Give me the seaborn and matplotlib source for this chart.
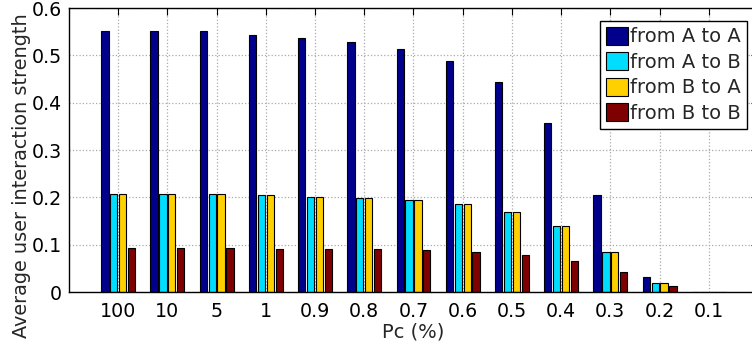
import matplotlib
matplotlib.use("Agg")
import matplotlib.pyplot as plt
import matplotlib.patches as mpatches
import seaborn as sns
import pandas as pd

# Pc thresholds (%) shown along the x axis
pc_labels = ["100", "10", "5", "1", "0.9", "0.8", "0.7", "0.6", "0.5", "0.4", "0.3", "0.2", "0.1"]

# Average interaction strength for each direction
a_to_a = [0.552, 0.552, 0.552, 0.544, 0.537, 0.529, 0.514, 0.488, 0.443, 0.358, 0.204, 0.031, 0.001]
a_to_b = [0.206, 0.206, 0.206, 0.204, 0.201, 0.199, 0.194, 0.185, 0.170, 0.139, 0.084, 0.018, 0.0006]
b_to_a = [0.206, 0.206, 0.206, 0.204, 0.201, 0.199, 0.194, 0.185, 0.170, 0.139, 0.084, 0.018, 0.0006]
b_to_b = [0.092, 0.092, 0.092, 0.090, 0.091, 0.090, 0.088, 0.085, 0.078, 0.066, 0.042, 0.013, 0.0004]

series_names = ["from A to A", "from A to B", "from B to A", "from B to B"]
series_values = [a_to_a, a_to_b, b_to_a, b_to_b]
colors = ["#00008C", "#00DDFF", "#FFD000", "#7F0000"]

rows = []
for name, vals in zip(series_names, series_values):
    for lab, v in zip(pc_labels, vals):
        rows.append({"Pc": lab, "direction": name, "value": v})
df = pd.DataFrame(rows)

sns.set_style("white")
plt.rcParams["font.family"] = ["DejaVu Sans"]

fig = plt.figure(figsize=(7.52, 3.45), dpi=100)
ax = fig.add_axes([69 / 752, 53 / 345, 689 / 752, 284 / 345])

sns.barplot(data=df, x="Pc", y="value", hue="direction", order=pc_labels,
            hue_order=series_names, palette=colors, width=0.72,
            saturation=1, edgecolor="black", linewidth=0.8, legend=False, ax=ax)

# narrower bars, keeping each bar centred in its slot
for p in ax.patches:
    cx = p.get_x() + p.get_width() / 2
    p.set_width(0.148)
    p.set_x(cx - 0.074)

ax.set_xlim(-1, 13)
ax.set_ylim(0, 0.6)
ax.set_yticks([0, 0.1, 0.2, 0.3, 0.4, 0.5, 0.6])
ax.set_yticklabels(["0", "0.1", "0.2", "0.3", "0.4", "0.5", "0.6"])
ax.set_xticks(range(len(pc_labels)))
ax.set_xticklabels(pc_labels)

ax.grid(True, linestyle=":", color="#aaaaaa", linewidth=0.9)
ax.set_axisbelow(True)
ax.tick_params(axis="both", which="both", direction="in", top=True, right=True,
               length=5, width=0.8, labelsize=13.7, colors="black")
ax.tick_params(axis="x", pad=7)
ax.tick_params(axis="y", pad=5)
for s in ax.spines.values():
    s.set_color("black")
    s.set_linewidth(1.0)

ax.set_xlabel("Pc (%)", fontsize=14, labelpad=1)
ax.set_ylabel("")
# axis title sits a little below the axes centre
fig.text(22 / 752, 1 - 176 / 345, "Average user interaction strength",
         rotation=90, ha="center", va="center", fontsize=13.9)

handles = [mpatches.Patch(facecolor=c, edgecolor="black", linewidth=0.8) for c in colors]
leg = ax.legend(handles, series_names, loc="upper right",
                bbox_to_anchor=(747 / 752, 1 - 21 / 345), bbox_transform=fig.transFigure,
                fontsize=14, frameon=True, fancybox=False, framealpha=1,
                edgecolor="black", handlelength=1.15, handleheight=1.05,
                handletextpad=0.1, labelspacing=0.3, borderpad=0.3, borderaxespad=0)
leg.get_frame().set_linewidth(1.0)

fig.savefig("out.png", dpi=100)
